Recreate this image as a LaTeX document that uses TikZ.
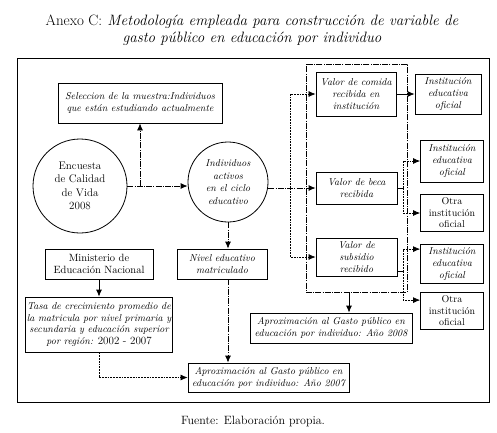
\documentclass[tikz,border=0pt]{standalone}
\usepackage{fontspec}
\usetikzlibrary{arrows.meta}

\begin{document}
\begin{tikzpicture}[x=1pt, y=-1pt, >={Latex[length=7pt,width=6pt]},
    every node/.style={font=\fontsize{10}{11.8}\selectfont\itshape, align=center, inner sep=1pt},
    caja/.style={draw, line width=0.8pt},
    circulo/.style={draw, circle, line width=0.8pt},
    guion/.style={line width=0.8pt, dash pattern=on 6pt off 1.2pt on 1pt off 1.2pt},
    punteado/.style={line width=0.7pt, dash pattern=on 1.8pt off 1pt}]
    \useasboundingbox (0,0) rectangle (497,432);

    % Titulo y marco
    \node[font=\fontsize{15}{16.5}\selectfont\itshape] (titulo) at (252,30)
        {{\upshape Anexo C:} Metodología empleada para construcción de variable de\\gasto público en educación por individuo};
    \draw[line width=1pt] (17,58) rectangle (489,402);
    \node[font=\fontsize{12}{14}\selectfont\upshape] (fuente) at (253,421) {Fuente: Elaboración propia.};

    % Encuesta
    \node[circulo, minimum size=94, font=\fontsize{11}{13.5}\selectfont\upshape] (enc) at (80,186) {Encuesta\\de Calidad\\de Vida\\2008};
    \node[caja, minimum width=164, minimum height=40] (sel) at (140,103) {Seleccion de la muestra:Individuos\\que están estudiando actualmente};
    \node[circulo, minimum size=80, font=\fontsize{10}{12.5}\selectfont\itshape] (ind) at (228,182) {Individuos\\activos\\en el ciclo\\educativo};

    % Componentes del gasto
    \node[draw, guion, minimum width=101, minimum height=228] (grupo) at (356.5,178) {};
    \node[caja, minimum width=80, minimum height=44] (comida) at (356,94) {Valor de comida\\recibida en\\institución};
    \node[caja, minimum width=81, minimum height=32] (beca) at (356.5,188) {Valor de beca\\recibida};
    \node[caja, minimum width=81, minimum height=38] (subs) at (356.5,257) {Valor de\\subsidio\\recibido};

    % Instituciones
    \node[caja, minimum width=66, minimum height=40] (inst1) at (448,94) {Institución\\educativa\\oficial};
    \node[caja, minimum width=63, minimum height=42] (inst2) at (452,161) {Institución\\educativa\\oficial};
    \node[caja, minimum width=63, minimum height=37, font=\fontsize{10}{11.5}\selectfont\upshape] (otra1) at (452,213) {Otra\\institución\\oficial};
    \node[caja, minimum width=63, minimum height=39] (inst3) at (452,264) {Institución\\educativa\\oficial};
    \node[caja, minimum width=63, minimum height=37, font=\fontsize{10}{11.5}\selectfont\upshape] (otra2) at (452,311) {Otra\\institución\\oficial};

    \node[caja, minimum width=162, minimum height=30] (ap08) at (331,328) {Aproximación al Gasto público en\\educación por individuo: Año 2008};

    % Ministerio y tasa
    \node[caja, minimum width=108, minimum height=30, font=\fontsize{10.5}{12}\selectfont\upshape] (min) at (99,264) {Ministerio de\\Educación Nacional};
    \node[caja, minimum width=90, minimum height=30] (niv) at (222,264) {Nivel educativo\\matriculado};
    \node[caja, minimum width=146, minimum height=55] (tasa) at (99,324.5) {Tasa de crecimiento promedio de\\la matricula por nivel primaria y\\secundaria y educación superior\\por región: {\upshape\fontsize{11}{11.8}\selectfont 2002 - 2007}};
    \node[caja, minimum width=161, minimum height=29] (ap07) at (268.5,377.5) {Aproximación al Gasto público en\\educación por individuo: Año 2007};

    \coordinate (bif1) at (290,0);
    \coordinate (bif2) at (403,0);
    \coordinate (bif3) at (349,0);
    \coordinate (sub) at ([yshift=5pt]subs.south east);

    % Conectores
    \draw[guion, ->] (enc.east) -- (enc.east -| ind.west);
    \draw[guion, ->] (sel.south |- enc.east) -- (sel.south);
    \draw[guion, ->] (ind.east |- beca.west) -- (beca.west);
    \draw[punteado, ->] (bif1 |- beca.west) |- (comida.west);
    \draw[punteado, ->] (bif1 |- beca.west) |- (subs.west);
    \draw[->, line width=0.8pt] (comida) -- (inst1);

    \draw[line width=0.8pt] (beca.east) -- (beca.east -| bif2);
    \draw[punteado, ->] (beca.east -| bif2) |- (inst2.west);
    \draw[punteado, ->] (beca.east -| bif2) |- (otra1.west);
    \draw[line width=0.8pt] (sub) -- (sub -| bif2);
    \draw[punteado, ->] (sub -| bif2) |- ([yshift=-5pt]inst3.north west);
    \draw[punteado, ->] (sub -| bif2) |- ([yshift=-8pt]otra2.north west);
    \draw[->, line width=0.8pt] (bif3 |- grupo.south) -- (bif3 |- ap08.north);

    \draw[guion, ->] (ind.south) -- (ind.south |- niv.north);
    \draw[guion, ->] (ind.south |- niv.south) -- (ind.south |- ap07.north);
    \draw[->, line width=0.8pt] (min) -- (tasa);
    \draw[punteado, ->] (tasa.south) |- (ap07.west);
\end{tikzpicture}
\end{document}
